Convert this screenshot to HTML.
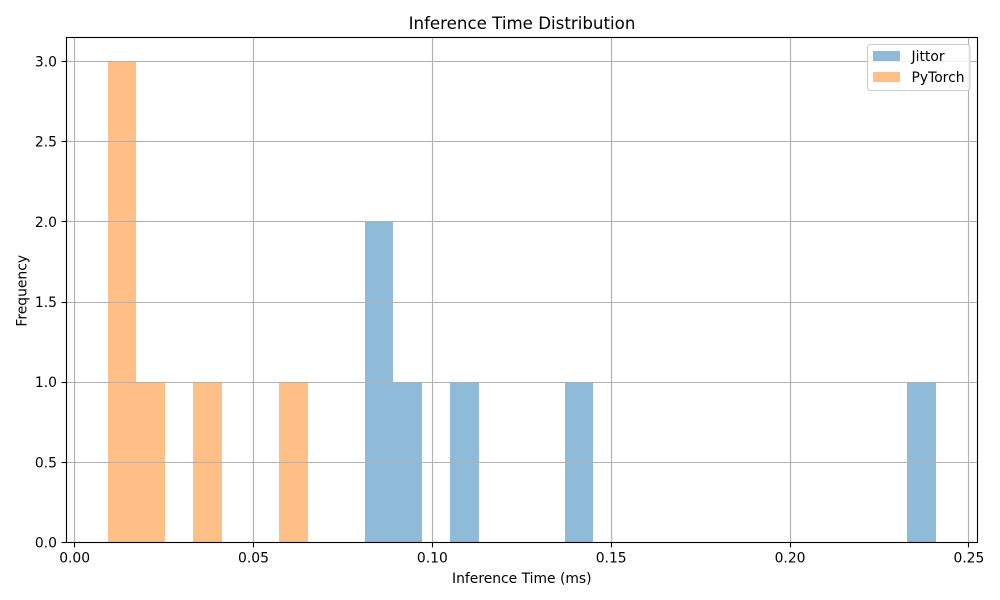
<!DOCTYPE html>
<html lang="en">
<head>
<meta charset="utf-8">
<title>Inference Time Distribution</title>
<style>
html,body{margin:0;padding:0;background:#fff;width:1000px;height:600px;overflow:hidden}
svg{display:block}
text{font-family:"DejaVu Sans","Liberation Sans",sans-serif;fill:#000}
</style>
</head>
<body>
<svg id="chart" xmlns="http://www.w3.org/2000/svg" width="1000" height="600" viewBox="0 0 1000 600">
<rect x="0" y="0" width="1000" height="600" fill="#fff"/>
<g id="bars"></g>
<g id="grid"></g>
<g id="ticks"></g>
<rect x="66.5" y="37.5" width="911" height="505" fill="none" stroke="#000" stroke-width="1.11"/>
<text x="522" y="29" text-anchor="middle" font-size="16.67">Inference Time Distribution</text>
<text x="521.8" y="583" text-anchor="middle" font-size="13.89">Inference Time (ms)</text>
<text transform="translate(26.5 290.8) rotate(-90)" text-anchor="middle" font-size="13.89">Frequency</text>
<g>
<rect x="867.5" y="44.5" width="102.5" height="46" rx="2.8" ry="2.8" fill="#fff" fill-opacity="0.8" stroke="#ccc" stroke-width="1.11"/>
<rect x="873" y="51" width="27" height="10" fill="#1f77b4" fill-opacity="0.5"/>
<text x="911.5" y="61" font-size="13.89">Jittor</text>
<rect x="873" y="72" width="27" height="10" fill="#ff7f0e" fill-opacity="0.5"/>
<text x="911.5" y="82" font-size="13.89">PyTorch</text>
</g>
</svg>
<script>
const binStart = 0.009234;
const binWidth = 0.0079843;
const jittorCounts = [0,0,0,0,0,0,0,0,0,2,1,0,1,0,0,0,1,0,0,0,0,0,0,0,0,0,0,0,1];
const pytorchCounts = [3,1,0,1,0,0,1,0,0,0,0,0,0,0,0,0,0,0,0,0,0,0,0,0,0,0,0,0,0];
const xTickValues = [0, 0.05, 0.10, 0.15, 0.20, 0.25];
const xTickLabels = ['0.00', '0.05', '0.10', '0.15', '0.20', '0.25'];
const yTickValues = [0, 0.5, 1, 1.5, 2, 2.5, 3];
const yTickLabels = ['0.0', '0.5', '1.0', '1.5', '2.0', '2.5', '3.0'];

const NS = 'http://www.w3.org/2000/svg';
const xScale = v => 74.65 + v * 3577;
const yScale = v => 542.5 - v * 160.33;

function makeLine(parent, x1, y1, x2, y2, color, name) {
  const el = document.createElementNS(NS, 'line');
  
  
  el.setAttribute('x1', x1);
  el.setAttribute('y1', y1);
  el.setAttribute('x2', x2);
  el.setAttribute('y2', y2);
  el.setAttribute('stroke', color);
  el.setAttribute('stroke-width', '1.11');
  parent.appendChild(el);
}

function makeLabel(parent, x, y, anchor, content, name) {
  const el = document.createElementNS(NS, 'text');
  
  
  el.setAttribute('x', x);
  el.setAttribute('y', y);
  el.setAttribute('text-anchor', anchor);
  el.setAttribute('font-size', '13.89');
  el.textContent = content;
  parent.appendChild(el);
}

function drawSeries(counts, color, seriesName) {
  const group = document.getElementById('bars');
  counts.forEach((count, i) => {
    if (!count) return;
    const left = Math.round(xScale(binStart + i * binWidth));
    const right = Math.round(xScale(binStart + (i + 1) * binWidth));
    const top = Math.round(yScale(count));
    const bottom = Math.round(yScale(0));
    const el = document.createElementNS(NS, 'rect');
    
    
    el.setAttribute('x', left);
    el.setAttribute('y', top);
    el.setAttribute('width', right - left);
    el.setAttribute('height', bottom - top);
    el.setAttribute('fill', color);
    el.setAttribute('fill-opacity', '0.5');
    group.appendChild(el);
  });
}

drawSeries(jittorCounts, '#1f77b4', 'jittor');
drawSeries(pytorchCounts, '#ff7f0e', 'pytorch');

const gridGroup = document.getElementById('grid');
const tickGroup = document.getElementById('ticks');

xTickValues.forEach((v, i) => {
  const x = Math.floor(xScale(v)) + 0.5;
  makeLine(gridGroup, x, 37.5, x, 542.5, '#b0b0b0', 'x-grid-line-' + xTickLabels[i]);
  makeLine(tickGroup, x, 542.5, x, 547.4, '#000', 'x-tick-mark-' + xTickLabels[i]);
  makeLabel(tickGroup, xScale(v), 562.5, 'middle', xTickLabels[i], 'x-tick-label-' + xTickLabels[i]);
});

yTickValues.forEach((v, i) => {
  const y = Math.floor(yScale(v)) + 0.5;
  makeLine(gridGroup, 66.5, y, 977.5, y, '#b0b0b0', 'y-grid-line-' + yTickLabels[i]);
  makeLine(tickGroup, 61.6, y, 66.5, y, '#000', 'y-tick-mark-' + yTickLabels[i]);
  makeLabel(tickGroup, 57, yScale(v) + 5, 'end', yTickLabels[i], 'y-tick-label-' + yTickLabels[i]);
});
</script>
</body>
</html>
